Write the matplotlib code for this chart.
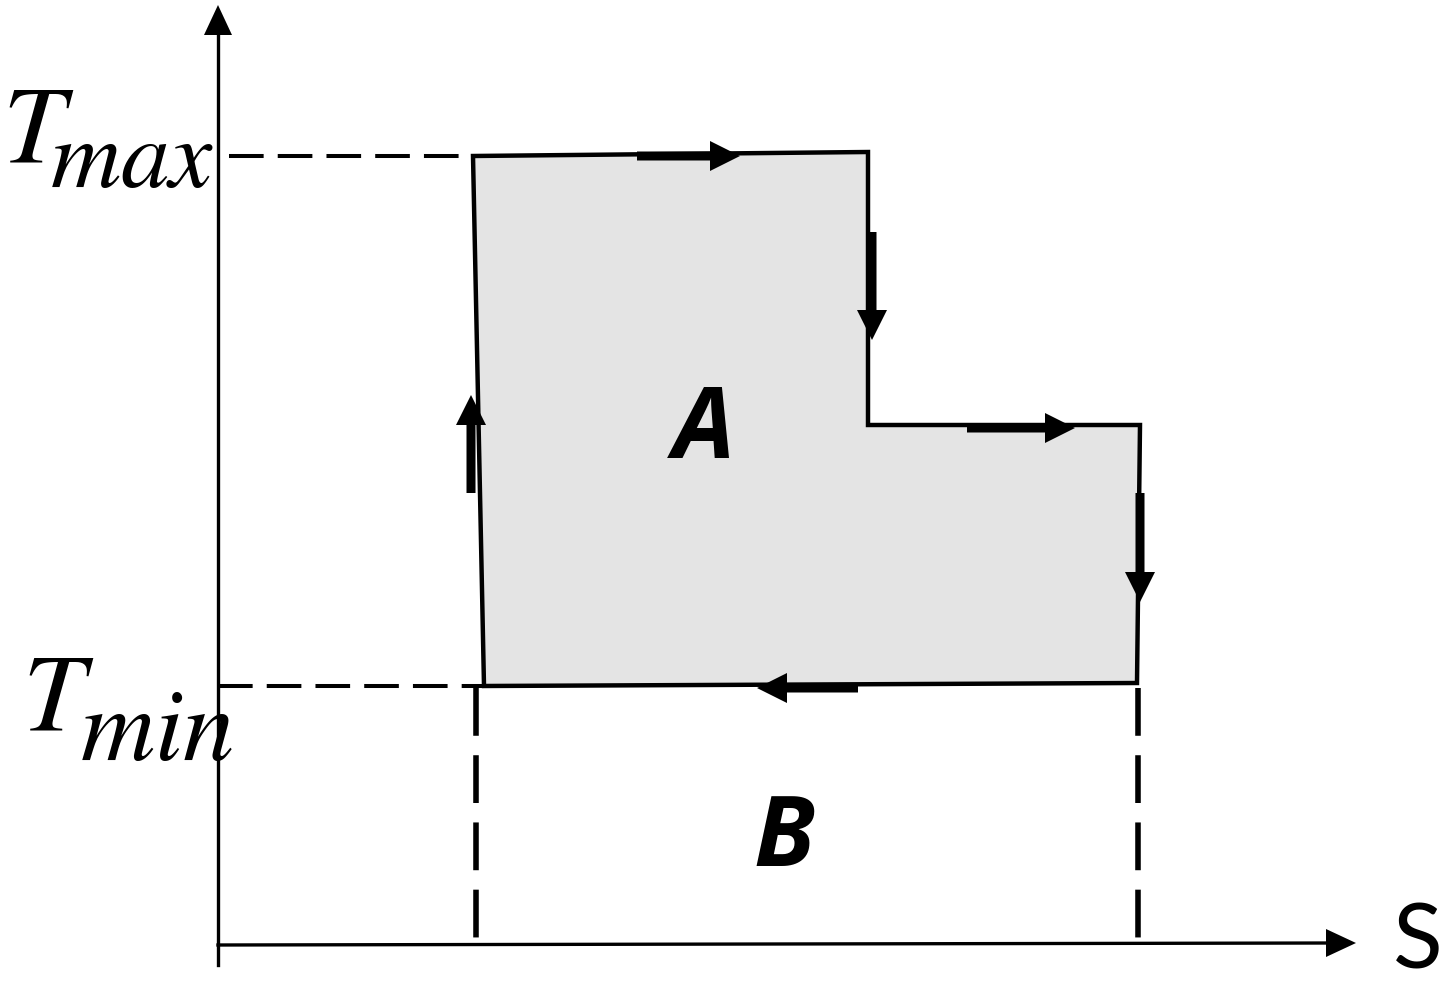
import matplotlib.pyplot as plt
from matplotlib.patches import Polygon

# cycle outline in picture coordinates (pixels, y downwards)
cycle_x = [473, 868, 868, 1140, 1137, 484]
cycle_y = [156, 152, 425, 425, 683, 686]

# direction arrows on the cycle: start x, start y, dx, dy
arrow_x = [637, 872, 967, 1140, 858, 471]
arrow_y = [156, 232, 428, 493, 688, 493]
arrow_dx = [103, 0, 108, 0, -101, 0]
arrow_dy = [0, 108, 0, 109, 0, -98]

# dashed guide lines
t_max_y = 156
t_min_y = 686
s_left = 476
s_right = 1138
axis_x0 = 218
axis_y0 = 945

plt.rcParams['mathtext.fontset'] = 'stix'

fig = plt.figure(figsize=(14.42, 9.84), dpi=100)
ax = fig.add_axes([0, 0, 1, 1])
ax.set_xlim(0, 1442)
ax.set_ylim(984, 0)
ax.axis('off')

ax.add_patch(Polygon(list(zip(cycle_x, cycle_y)), closed=True,
                     facecolor='#e4e4e4', edgecolor='black', lw=3.2,
                     joinstyle='miter', zorder=2))

for x, y, dx, dy in zip(arrow_x, arrow_y, arrow_dx, arrow_dy):
    ax.arrow(x, y, dx, dy, width=9, head_width=30, head_length=30,
             length_includes_head=True, color='black', lw=0, zorder=3)

dash = (0, (8.6, 3.5))
ax.plot([229, cycle_x[0]], [t_max_y, t_max_y], color='black', lw=2.9, ls=dash)
ax.plot([axis_x0, cycle_x[5]], [t_min_y, t_min_y], color='black', lw=2.9, ls=dash)
ax.plot([s_left, s_left], [t_min_y + 2, axis_y0], color='black', lw=4.0, ls=dash)
ax.plot([s_right, s_right], [cycle_y[4] + 5, axis_y0], color='black', lw=4.0, ls=dash)

# axes
ax.plot([axis_x0, axis_x0], [965, 30], color='black', lw=2.4)
ax.arrow(axis_x0, 40, 0, -35, width=2, head_width=28, head_length=30,
         length_includes_head=True, color='black', lw=0)
ax.plot([axis_x0, 1330], [axis_y0, 943], color='black', lw=2.4)
ax.arrow(1320, 943, 36, 0, width=2, head_width=28, head_length=30,
         length_includes_head=True, color='black', lw=0)

# axis labels, T with a big subscript as in the original
ax.text(2, 162, r'$T$', fontsize=80, ha='left', va='baseline')
ax.text(50, 187, r'$max$', fontsize=70, ha='left', va='baseline')
ax.text(22, 730, r'$T$', fontsize=80, ha='left', va='baseline')
ax.text(80, 760, r'$min$', fontsize=74, ha='left', va='baseline')

ax.text(704, 433, 'A', fontsize=71, fontweight='bold', fontstyle='italic',
        family='Open Sans', ha='center', va='center')
ax.text(784, 840, 'B', fontsize=71, fontweight='bold', fontstyle='italic',
        family='Open Sans', ha='center', va='center')
ax.text(1418, 943, 'S', fontsize=66, family='Lato', ha='center', va='center')

fig.savefig('out.png', dpi=100)
